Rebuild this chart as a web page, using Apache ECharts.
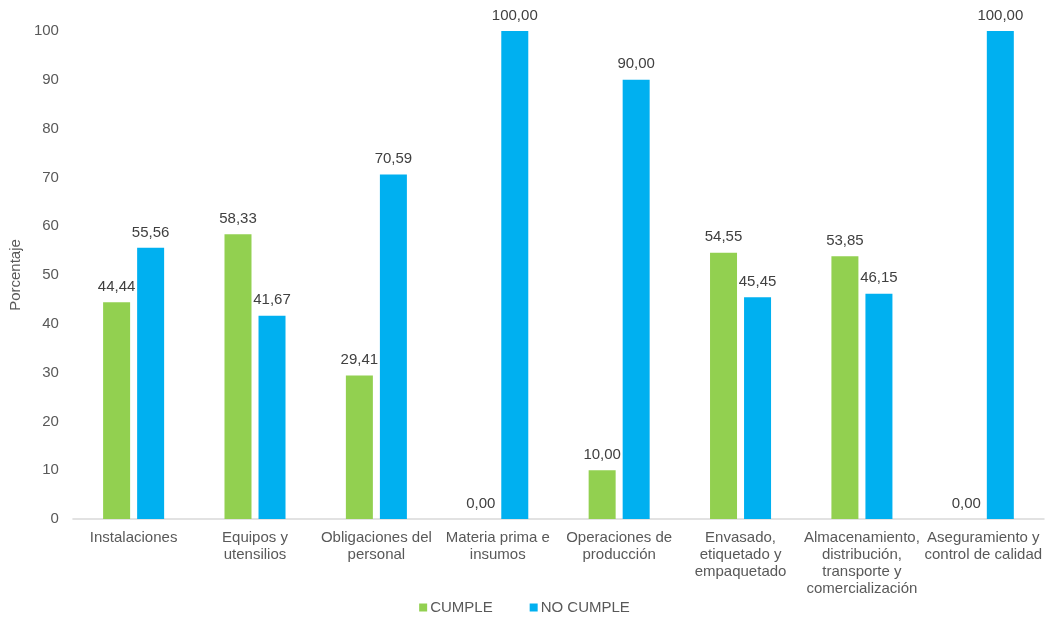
<!DOCTYPE html>
<html>
<head>
<meta charset="utf-8">
<script src="https://cdn.jsdelivr.net/npm/echarts@6/dist/echarts.min.js"></script>
<style>html,body{margin:0;padding:0;background:#fff;}#c{width:1049px;height:623px;}</style>
</head>
<body>
<div id="c"></div>
<script>
const categories = [
  "Instalaciones",
  "Equipos y\nutensilios",
  "Obligaciones del\npersonal",
  "Materia prima e\ninsumos",
  "Operaciones de\nproducción",
  "Envasado,\netiquetado y\nempaquetado",
  "Almacenamiento,\ndistribución,\ntransporte y\ncomercialización",
  "Aseguramiento y\ncontrol de calidad"
];
const cumple = [44.44, 58.33, 29.41, 0.00, 10.00, 54.55, 53.85, 0.00];
const noCumple = [55.56, 41.67, 70.59, 100.00, 90.00, 45.45, 46.15, 100.00];
const yTicks = [0, 10, 20, 30, 40, 50, 60, 70, 80, 90, 100];

const fontFam = '"Liberation Sans", Arial, sans-serif';
const lbl = {
  show: true, position: 'top', distance: 8,
  color: '#404040', fontSize: 15, fontFamily: fontFam,
  formatter: p => p.value.toFixed(2).replace('.', ',')
};
const chart = echarts.init(document.getElementById('c'));
chart.setOption({
  animation: false,
  grid: { left: 72, right: 5, top: 31, bottom: 104, containLabel: false },
  legend: {
    bottom: 3, left: 'center', itemWidth: 8, itemHeight: 8, itemGap: 37,
    icon: 'rect',
    textStyle: { color: '#595959', fontSize: 15, fontFamily: fontFam, padding: [0,0,0,-2] },
    data: ['CUMPLE', 'NO CUMPLE']
  },
  xAxis: {
    type: 'category', data: categories,
    axisLine: { lineStyle: { color: '#d9d9d9', width: 1.5 } },
    axisTick: { show: false },
    axisLabel: { interval: 0, color: '#595959', fontSize: 15, fontFamily: fontFam, lineHeight: 17, margin: 10 }
  },
  yAxis: {
    type: 'value', min: yTicks[0], max: yTicks[yTicks.length-1], interval: 10,
    name: 'Porcentaje', nameLocation: 'middle', nameGap: 46, nameRotate: 90,
    nameTextStyle: { color: '#595959', fontSize: 15, fontFamily: fontFam },
    splitLine: { show: false },
    axisLine: { show: false }, axisTick: { show: false },
    axisLabel: { color: '#595959', fontSize: 15, fontFamily: fontFam, margin: 14 }
  },
  series: [
    { name: 'CUMPLE', type: 'bar', data: cumple, itemStyle: { color: '#92D050' },
      barWidth: 27, barGap: '26%', label: lbl },
    { name: 'NO CUMPLE', type: 'bar', data: noCumple, itemStyle: { color: '#00B0F0' },
      barWidth: 27, label: lbl }
  ]
});
</script>
</body>
</html>
